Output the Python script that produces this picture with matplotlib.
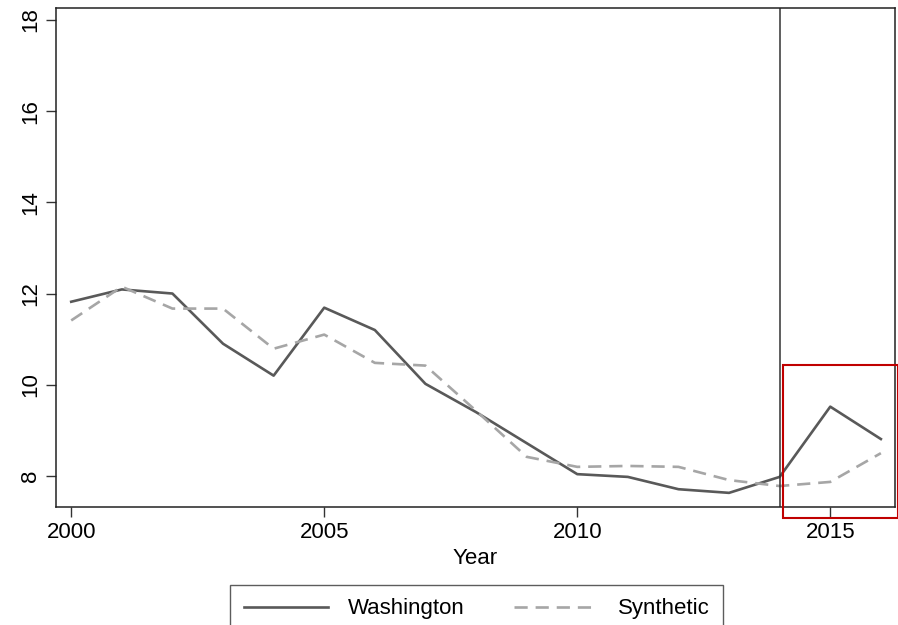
import matplotlib
matplotlib.use("Agg")
import matplotlib.pyplot as plt
from matplotlib.patches import Rectangle

plt.rcParams['font.family'] = ['Liberation Sans', 'DejaVu Sans']

years = list(range(2000, 2017))
washington = [11.82, 12.09, 12.00, 10.90, 10.20, 11.69, 11.20, 10.02, 9.40, 8.72,
              8.04, 7.98, 7.71, 7.63, 7.98, 9.52, 8.81]
synthetic = [11.41, 12.15, 11.67, 11.67, 10.79, 11.10, 10.48, 10.42, 9.43, 8.42,
             8.20, 8.22, 8.20, 7.91, 7.78, 7.87, 8.50]
treat_year = 2014
xticks = [2000, 2005, 2010, 2015]
yticks = [8, 10, 12, 14, 16, 18]

fig = plt.figure(figsize=(8.98, 6.25), dpi=100)
ax = fig.add_axes([0.0624, 0.1888, 0.9343, 0.7984])

ax.plot(years, washington, color='#595959', lw=1.9, label='Washington')
ax.plot(years, synthetic, color='#a6a6a6', lw=1.9, dashes=(5, 3), label='Synthetic')
ax.axvline(treat_year, color='#333333', lw=1.1)

ax.add_patch(Rectangle((2014.07, 7.08), 2.26, 3.36, fill=False,
                       edgecolor='#c00000', lw=1.5, clip_on=False,
                       transform=ax.transData, zorder=5))

ax.set_xlim(1999.7, 2016.28)
ax.set_ylim(7.32, 18.26)
ax.set_xticks(xticks)
ax.set_yticks(yticks)
ax.tick_params(length=7, width=1, labelsize=16, color='#333333')
for lab in ax.get_yticklabels():
    lab.set_rotation(90)
    lab.set_va('center')
for sp in ax.spines.values():
    sp.set_color('#222222')
    sp.set_linewidth(1.1)
ax.set_xlabel('Year', fontsize=16, labelpad=4)

leg = fig.legend(loc='upper center', bbox_to_anchor=(0.531, 0.064), ncol=2,
                 fontsize=16, frameon=True, fancybox=False, borderaxespad=0,
                 handlelength=3.8, columnspacing=2.2, handletextpad=0.9,
                 borderpad=0.6)
leg.get_frame().set_edgecolor('#333333')
leg.get_frame().set_linewidth(1.0)

fig.savefig('out.png', dpi=100)
